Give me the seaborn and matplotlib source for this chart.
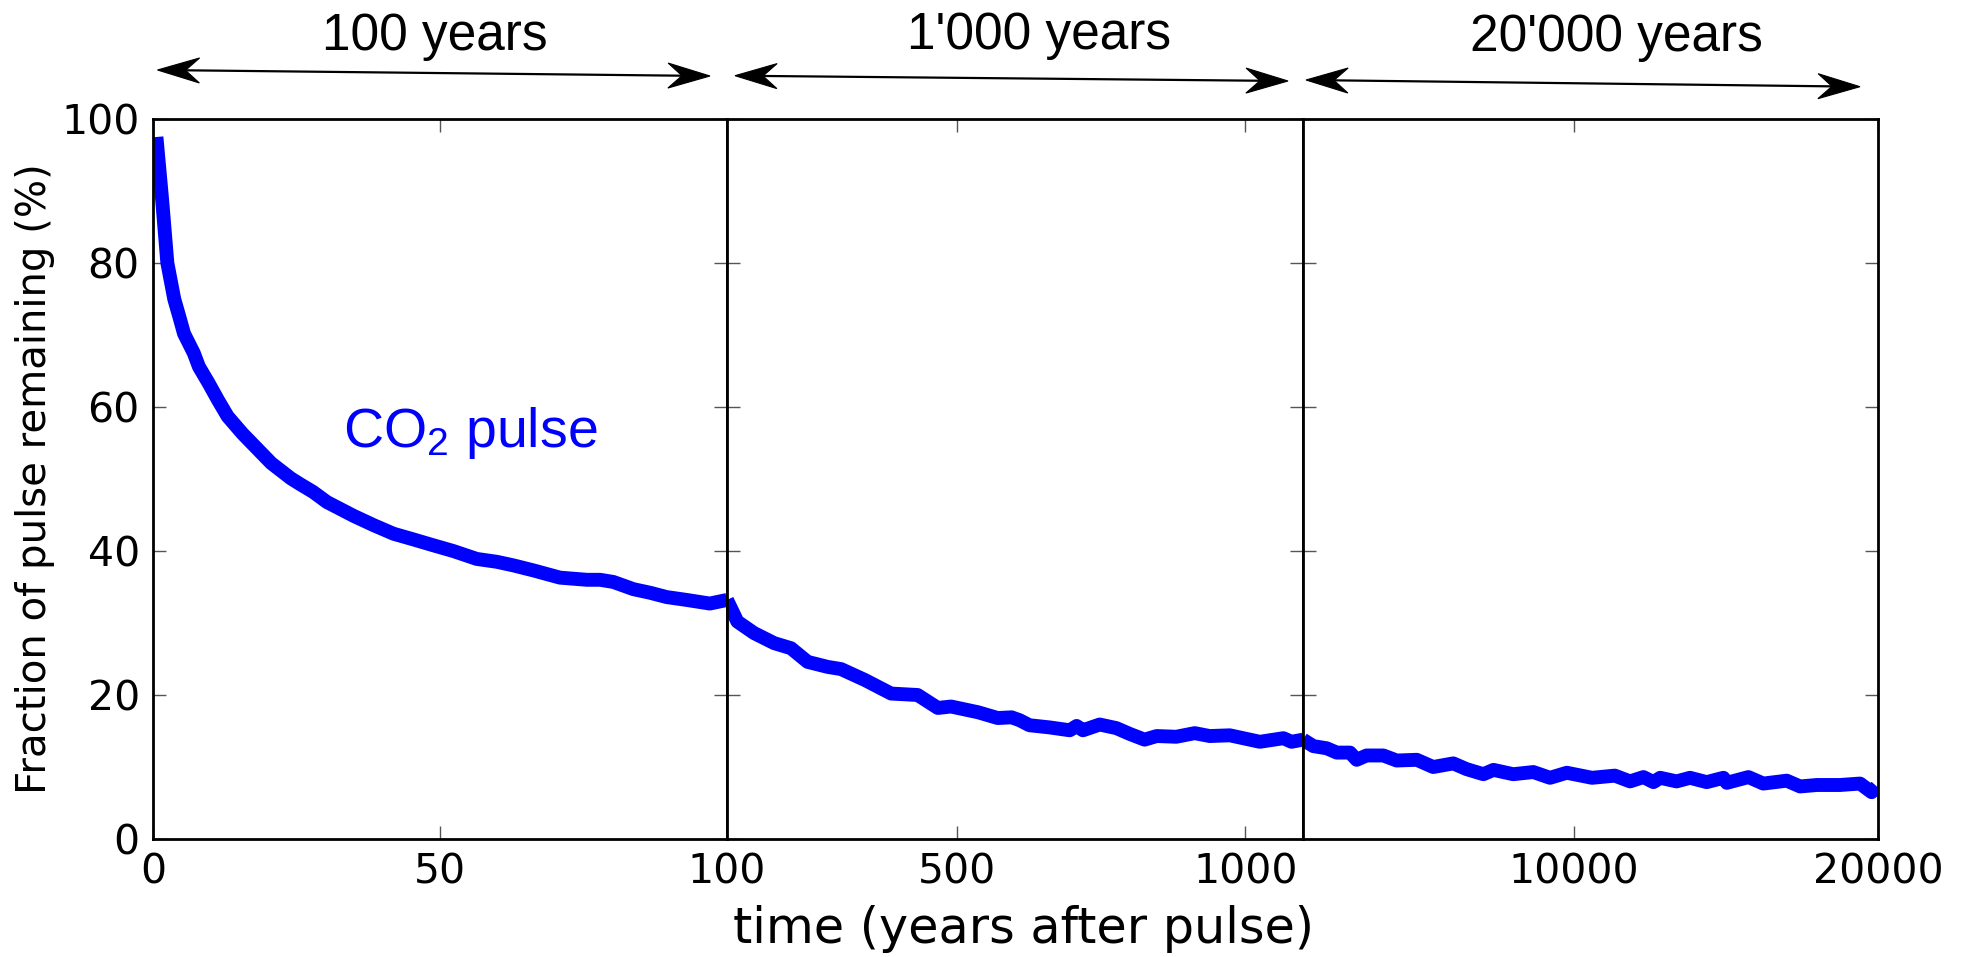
import matplotlib
matplotlib.use("Agg")
import matplotlib.pyplot as plt
from matplotlib.patches import Polygon
from matplotlib.lines import Line2D
import numpy as np
import pandas as pd
import seaborn as sns

# ---- data: fraction of a CO2 pulse remaining in the atmosphere (%) ----
years_short = [0.6, 1.6, 2.5, 3.7, 4.6, 5.4, 7.1, 8.0, 9.7, 11.3, 13.0, 15.6, 20.6,
               24.0, 25.6, 27.9, 30.3, 34.9, 38.4, 41.9, 45.4, 48.8, 52.3, 56.4,
               59.9, 62.8, 66.3, 70.9, 75.6, 77.9, 80.2, 83.7, 86.6, 89.5, 93.0,
               97.0, 100.0]
frac_short = [97.5, 88.7, 80.0, 75.0, 72.5, 70.2, 67.5, 65.6, 63.3, 61.0, 58.7, 56.3,
              52.2, 50.1, 49.3, 48.2, 46.8, 44.9, 43.6, 42.4, 41.6, 40.8, 40.0, 38.9,
              38.5, 38.0, 37.3, 36.3, 36.0, 36.0, 35.7, 34.7, 34.2, 33.6, 33.2, 32.7,
              33.2]

years_mid = [100, 118, 147, 182, 211, 240, 275, 298, 339, 385, 431, 466, 489, 536,
             570, 594, 608, 625, 660, 695, 707, 718, 747, 776, 799, 825, 846, 880,
             912, 938, 973, 1025, 1066, 1080, 1100]
frac_mid = [33.2, 30.2, 28.6, 27.2, 26.5, 24.6, 23.9, 23.6, 22.1, 20.2, 20.0, 18.2,
            18.4, 17.6, 16.8, 16.9, 16.5, 15.8, 15.5, 15.1, 15.7, 15.1, 15.9, 15.4,
            14.6, 13.8, 14.3, 14.2, 14.7, 14.3, 14.4, 13.5, 14.0, 13.5, 13.8]

years_long = [1100, 1440, 1880, 2210, 2645, 2865, 3190, 3740, 4180, 4840, 5380, 6040,
              6480, 7030, 7360, 8010, 8670, 9220, 9770, 10600, 11350, 11850, 12290,
              12620, 12840, 13380, 13820, 14370, 14920, 15030, 15740, 16230, 17000,
              17440, 17990, 18750, 19410, 19790, 19960]
frac_long = [13.8, 12.9, 12.6, 12.0, 12.0, 11.0, 11.6, 11.6, 10.9, 11.0, 10.0, 10.5,
             9.7, 9.0, 9.6, 9.0, 9.3, 8.5, 9.2, 8.5, 8.8, 8.0, 8.6, 7.9, 8.5, 8.0,
             8.5, 7.9, 8.5, 7.8, 8.6, 7.7, 8.1, 7.3, 7.5, 7.5, 7.7, 6.5, 7.3]

panel_limits = [(0, 100), (100, 1100), (1100, 20000)]
panel_xticks = [[0, 50, 100], [500, 1000], [10000, 20000]]
panel_headers = ["100 years", "1'000 years", "20'000 years"]
y_ticks = [0, 20, 40, 60, 80, 100]

series = [(years_short, frac_short), (years_mid, frac_mid), (years_long, frac_long)]

# ---- style ----
sns.set_style("ticks")
plt.rcParams["font.family"] = ["DejaVu Sans"]
plt.rcParams["text.color"] = "black"
plt.rcParams["axes.labelcolor"] = "black"
plt.rcParams["xtick.labelcolor"] = "black"
plt.rcParams["ytick.labelcolor"] = "black"
plt.rcParams["mathtext.fontset"] = "custom"
plt.rcParams["mathtext.rm"] = "Liberation Sans"
plt.rcParams["mathtext.it"] = "Liberation Sans:italic"
plt.rcParams["mathtext.bf"] = "Liberation Sans:bold"

W, H = 1965, 957
fig = plt.figure(figsize=(W / 100, H / 100), dpi=100)
fig.patch.set_facecolor("white")

top_px, bottom_px = 119, 839
panel_px = [(153, 727), (727, 1303), (1303, 1878)]
BLUE = "#0000ff"

axes = []
for i, ((x0p, x1p), (xs, ys)) in enumerate(zip(panel_px, series)):
    ax = fig.add_axes([x0p / W, 1 - bottom_px / H, (x1p - x0p) / W,
                       (bottom_px - top_px) / H])
    df = pd.DataFrame({"year": xs, "fraction": ys})
    sns.lineplot(data=df, x="year", y="fraction", ax=ax, color=BLUE, lw=10,
                 estimator=None, sort=False, solid_capstyle="butt",
                 solid_joinstyle="round")
    ax.set_xlim(*panel_limits[i])
    ax.set_ylim(0, 100)
    ax.set_xticks(panel_xticks[i])
    ax.set_yticks(y_ticks)
    ax.set_xlabel("")
    ax.set_ylabel("")
    ax.set_facecolor("white")
    for sp in ax.spines.values():
        sp.set_visible(True)
        sp.set_linewidth(2.0)
        sp.set_color("black")
    ax.tick_params(axis="both", which="major", direction="in", length=9.4,
                   width=1.0, color="#555555", top=True, right=True,
                   labelsize=29.5, pad=9.5, labelcolor="black")
    if i > 0:
        ax.tick_params(axis="y", labelleft=False)
    axes.append(ax)

# CO2 label next to the curve
axes[0].text(33.1, 54.4, "CO$_2$ pulse", color=BLUE, fontsize=40,
             family="Liberation Sans", va="baseline", ha="left")

# axis titles
fig.text(35 / W, 1 - 479 / H, "Fraction of pulse remaining (%)", rotation=90,
         ha="center", va="center", fontsize=29, color="black")
fig.text(1023.5 / W, 1 - 943 / H, "time (years after pulse)", ha="center",
         va="baseline", fontsize=35.5, color="black")

# double-headed span arrows above each panel
def fig_xy(px, py):
    return px / W, 1 - py / H


def stealth_head(tip, direction):
    tx, ty = tip
    dx, dy = direction
    n = np.hypot(dx, dy)
    ux, uy = dx / n, dy / n          # unit vector pointing to the tip
    vx, vy = -uy, ux                 # normal
    L, hw, notch = 42.0, 12.5, 28.0
    pts = [
        (tx, ty),
        (tx - L * ux + hw * vx, ty - L * uy + hw * vy),
        (tx - notch * ux, ty - notch * uy),
        (tx - L * ux - hw * vx, ty - L * uy - hw * vy),
    ]
    return [fig_xy(*p) for p in pts], (tx - notch * ux, ty - notch * uy)


def double_arrow(p0, p1):
    d = (p1[0] - p0[0], p1[1] - p0[1])
    head_r, end_r = stealth_head(p1, d)
    head_l, end_l = stealth_head(p0, (-d[0], -d[1]))
    (xa, ya), (xb, yb) = fig_xy(*end_l), fig_xy(*end_r)
    fig.add_artist(Line2D([xa, xb], [ya, yb], transform=fig.transFigure,
                          color="black", lw=1.6))
    for poly in (head_l, head_r):
        fig.add_artist(Polygon(poly, closed=True, transform=fig.transFigure,
                               facecolor="black", edgecolor="black", lw=0.8))


arrow_spans = [((157.5, 70), (710, 76)), ((735, 75.7), (1288, 81)),
               ((1306, 80), (1860, 86.7))]
header_pos = [(435, 50), (1039.5, 49), (1616, 51)]
for (a, b), text, (hx, hy) in zip(arrow_spans, panel_headers, header_pos):
    double_arrow(a, b)
    fig.text(hx / W, 1 - hy / H, text, ha="center", va="baseline",
             fontsize=37, family="Liberation Sans", color="black")

fig.savefig("out.png", dpi=100, facecolor="white")
